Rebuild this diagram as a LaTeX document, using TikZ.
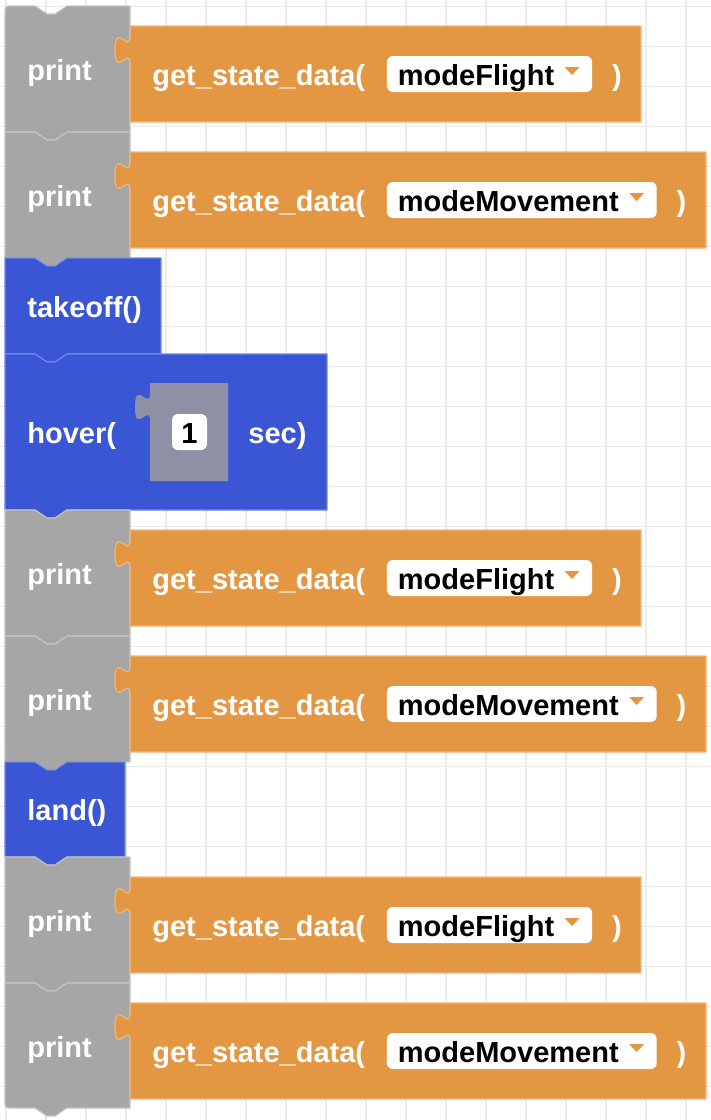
\documentclass[tikz,border=0pt]{standalone}
\usepackage{fontspec}
\setmainfont{Liberation Sans}
\usepackage{tikz}
\usetikzlibrary{positioning}
\definecolor{blocklygray}{RGB}{166,166,166}
\definecolor{blocklygrayedge}{RGB}{196,196,196}
\definecolor{blocklyorange}{RGB}{227,151,67}
\definecolor{blocklyorangeedge}{RGB}{238,184,126}
\definecolor{blocklyblue}{RGB}{59,86,212}
\definecolor{blocklyblueedge}{RGB}{114,134,228}
\definecolor{blocklyslot}{RGB}{142,145,165}
\definecolor{gridline}{RGB}{235,235,235}

% statement block: top, right, bottom, style
\newcommand{\stmtblock}[4]{%
  \draw[#4] (35,#1) -- ++(12,8) -- ++(8,0) -- ++(12,-8) -- (#2,#1) -- (#2,#3)
    -- (67,#3) -- ++(-12,8) -- ++(-8,0) -- ++(-12,-8) -- (5,#3) -- (5,#1) -- cycle;}
% value block with puzzle tab: top, right, bottom
\newcommand{\valueblock}[3]{%
  \draw[valuebox] (130,#1) -- (#2,#1) -- (#2,#3) -- (130,#3) -- (130,#1+38)
    .. controls (130,#1+19.3) and (115,#1+53) .. (115,#1+24)
    .. controls (115,#1-5) and (130,#1+28.75) .. (130,#1+10) -- cycle;}

\begin{document}
\begin{tikzpicture}[
    x=0.5pt, y=-0.5pt,
    printbox/.style={fill=blocklygray, draw=blocklygrayedge, line width=0.6pt, line join=round},
    movebox/.style={fill=blocklyblue, draw=blocklyblueedge, line width=0.6pt, line join=round},
    valuebox/.style={fill=blocklyorange, draw=blocklyorangeedge, line width=0.6pt, line join=round},
    lbl/.style={text=white, font=\bfseries\fontsize{14.5}{17}\selectfont, inner sep=0pt, text height=13pt, text depth=2pt},
    dropdown/.style={lbl, text=black, fill=white, rounded corners=3pt, minimum height=18pt,
        execute at begin node=\hspace{5.5pt}, execute at end node=\hspace{19pt}},
    numbox/.style={lbl, text=black, fill=white, rounded corners=3pt, minimum width=17.5pt, minimum height=18pt}
]
    \useasboundingbox (0,0) rectangle (711,1120);
    \fill[white] (0,0) rectangle (711,1120);

    % Grid
    \foreach \k in {0,...,17}
        \draw[gridline, line width=0.6pt] (6+40*\k,0) -- (6+40*\k,1120);
    \foreach \k in {0,...,27}
        \draw[gridline, line width=0.6pt] (0,6.7+40*\k) -- (711,6.7+40*\k);

    % Row A
    \draw[printbox] (35,6) -- ++(12,8) -- ++(8,0) -- ++(12,-8) -- (130,6) -- (130,132)
        -- (67,132) -- ++(-12,8) -- ++(-8,0) -- ++(-12,-8) -- (5,132) -- (5,14) .. controls (5,6) .. (13,6) -- cycle;
    \valueblock{26}{641}{122}
    \node[lbl, anchor=west] (printA) at (27,69) {print};
    \node[lbl, anchor=west] (gsdA) at (152,74) {get\_state\_data(};
    \node[dropdown, right=10.5pt of gsdA] (ddA) {modeFlight};
    \node[lbl, right=9.5pt of ddA] (clA) {)};

    % Row B
    \stmtblock{132}{130}{258}{printbox}
    \valueblock{152}{706}{248}
    \node[lbl, anchor=west] (printB) at (27,195) {print};
    \node[lbl, anchor=west] (gsdB) at (152,200) {get\_state\_data(};
    \node[dropdown, right=10.5pt of gsdB] (ddB) {modeMovement};
    \node[lbl, right=9.5pt of ddB] (clB) {)};

    % takeoff and hover
    \stmtblock{258}{161}{354}{movebox}
    \node[lbl, anchor=west] (takeoff) at (27,306) {takeoff()};
    \stmtblock{354}{327}{510}{movebox}
    \fill[blocklyslot] (150,383) -- (228,383) -- (228,481) -- (150,481) -- (150,421)
        .. controls (150,402.3) and (135,436) .. (135,407)
        .. controls (135,378) and (150,411.75) .. (150,393) -- cycle;
    \node[lbl, anchor=west] (hover) at (27,432) {hover(};
    \node[numbox] (secs) at (189.5,432) {1};
    \node[lbl, anchor=west] (sec) at (248,432) {sec)};

    % Row C
    \stmtblock{510}{130}{636}{printbox}
    \valueblock{530}{641}{626}
    \node[lbl, anchor=west] (printC) at (27,573) {print};
    \node[lbl, anchor=west] (gsdC) at (152,578) {get\_state\_data(};
    \node[dropdown, right=10.5pt of gsdC] (ddC) {modeFlight};
    \node[lbl, right=9.5pt of ddC] (clC) {)};

    % Row D
    \stmtblock{636}{130}{762}{printbox}
    \valueblock{656}{706}{752}
    \node[lbl, anchor=west] (printD) at (27,699) {print};
    \node[lbl, anchor=west] (gsdD) at (152,704) {get\_state\_data(};
    \node[dropdown, right=10.5pt of gsdD] (ddD) {modeMovement};
    \node[lbl, right=9.5pt of ddD] (clD) {)};

    % land
    \stmtblock{762}{125}{857}{movebox}
    \node[lbl, anchor=west] (land) at (27,809.5) {land()};

    % Row E
    \stmtblock{857}{130}{983}{printbox}
    \valueblock{877}{641}{973}
    \node[lbl, anchor=west] (printE) at (27,920) {print};
    \node[lbl, anchor=west] (gsdE) at (152,925) {get\_state\_data(};
    \node[dropdown, right=10.5pt of gsdE] (ddE) {modeFlight};
    \node[lbl, right=9.5pt of ddE] (clE) {)};

    % Row F
    \draw[printbox] (35,983) -- ++(12,8) -- ++(8,0) -- ++(12,-8) -- (130,983) -- (130,1108)
        -- (67,1108) -- ++(-12,8) -- ++(-8,0) -- ++(-12,-8) -- (13,1108) .. controls (5,1108) .. (5,1100) -- (5,983) -- cycle;
    \valueblock{1003}{706}{1099}
    \node[lbl, anchor=west] (printF) at (27,1046) {print};
    \node[lbl, anchor=west] (gsdF) at (152,1051) {get\_state\_data(};
    \node[dropdown, right=10.5pt of gsdF] (ddF) {modeMovement};
    \node[lbl, right=9.5pt of ddF] (clF) {)};

    % Dropdown arrows
    \foreach \n in {A,B,C,D,E,F}
        \fill[blocklyorange] ([xshift=-14pt,yshift=3.5pt]dd\n.east) -- ++(15,0) -- ++(-7.5,8) -- cycle;
\end{tikzpicture}
\end{document}
